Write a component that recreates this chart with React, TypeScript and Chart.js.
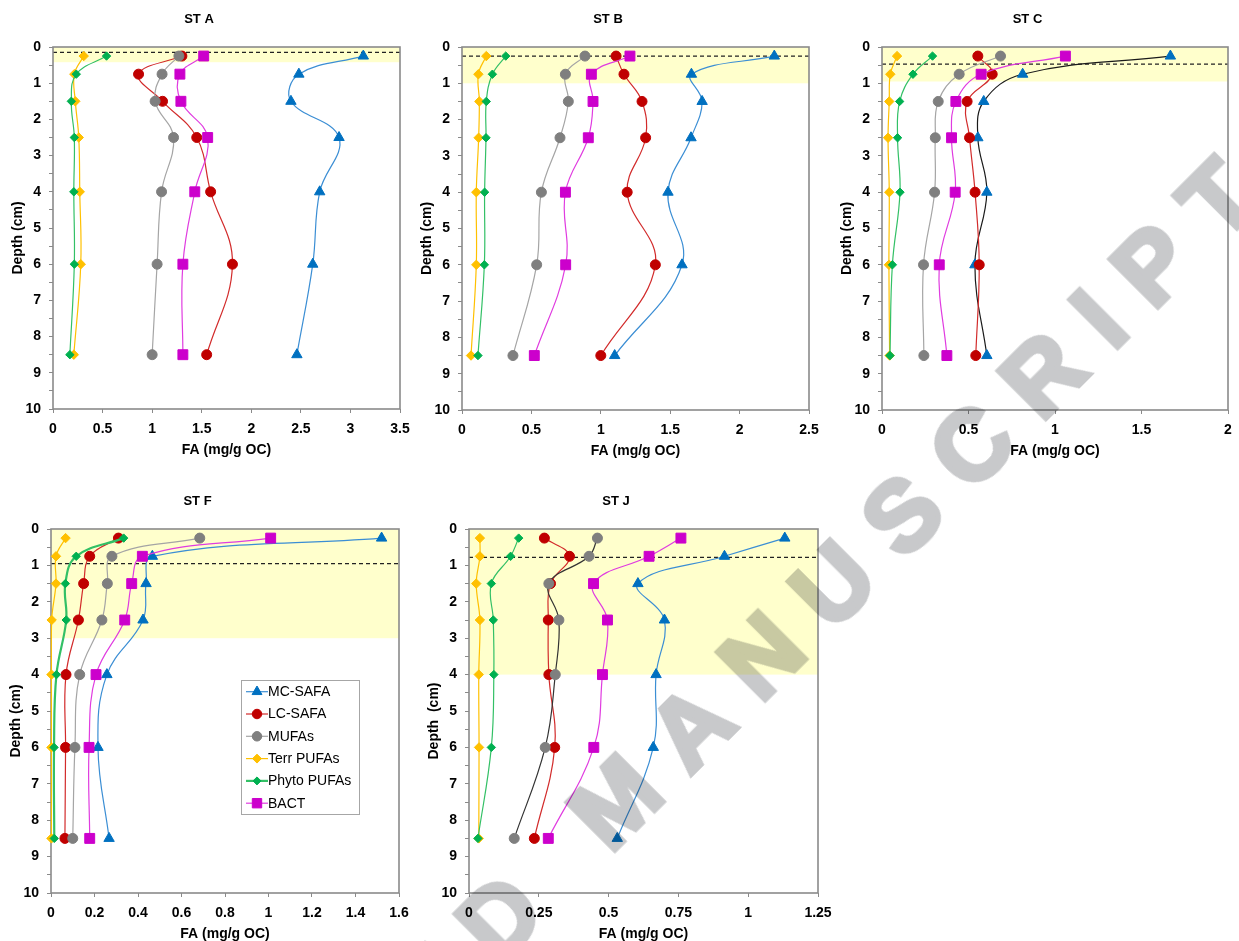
import React, { useEffect, useRef } from "react";
import { Chart, registerables } from "chart.js";

Chart.register(...registerables);

// ---------------- DATA ----------------
const depths = [0.25, 0.75, 1.5, 2.5, 4, 6, 8.5];
const depthTicks = [0, 0.5, 1, 1.5, 2, 2.5, 3, 3.5, 4, 4.5, 5, 5.5, 6, 6.5, 7, 7.5, 8, 8.5, 9, 9.5, 10];
const seriesNames = ["MC-SAFA", "LC-SAFA", "MUFAs", "Terr PUFAs", "Phyto PUFAs", "BACT"];

// ST A
const stA_MCSAFA = [3.13, 2.48, 2.4, 2.885, 2.69, 2.62, 2.46];
const stA_LCSAFA = [1.3, 0.863, 1.105, 1.45, 1.59, 1.81, 1.55];
const stA_MUFAs = [1.27, 1.1, 1.03, 1.216, 1.095, 1.05, 1.0];
const stA_Terr = [0.31, 0.215, 0.225, 0.26, 0.27, 0.28, 0.21];
const stA_Phyto = [0.54, 0.235, 0.185, 0.215, 0.21, 0.215, 0.17];
const stA_BACT = [1.52, 1.28, 1.29, 1.56, 1.43, 1.31, 1.31];

// ST B
const stB_MCSAFA = [2.25, 1.653, 1.73, 1.65, 1.484, 1.585, 1.1];
const stB_LCSAFA = [1.11, 1.167, 1.297, 1.323, 1.19, 1.393, 1.0];
const stB_MUFAs = [0.886, 0.745, 0.766, 0.706, 0.572, 0.538, 0.367];
const stB_Terr = [0.175, 0.118, 0.125, 0.12, 0.103, 0.103, 0.065];
const stB_Phyto = [0.315, 0.219, 0.175, 0.173, 0.163, 0.161, 0.115];
const stB_BACT = [1.21, 0.932, 0.944, 0.91, 0.745, 0.747, 0.521];

// ST C
const stC_MCSAFA = [1.667, 0.813, 0.588, 0.554, 0.606, 0.537, 0.606];
const stC_LCSAFA = [0.554, 0.637, 0.492, 0.506, 0.538, 0.562, 0.542];
const stC_MUFAs = [0.685, 0.446, 0.325, 0.308, 0.304, 0.24, 0.242];
const stC_Terr = [0.087, 0.048, 0.042, 0.035, 0.042, 0.04, 0.044];
const stC_Phyto = [0.292, 0.179, 0.102, 0.09, 0.104, 0.06, 0.046];
const stC_BACT = [1.06, 0.573, 0.427, 0.402, 0.423, 0.331, 0.375];

// ST F
const stF_MCSAFA = [1.52, 0.466, 0.437, 0.423, 0.257, 0.216, 0.267];
const stF_LCSAFA = [0.31, 0.178, 0.15, 0.126, 0.069, 0.067, 0.064];
const stF_MUFAs = [0.684, 0.28, 0.259, 0.234, 0.132, 0.11, 0.1];
const stF_Terr = [0.067, 0.023, 0.023, 0.003, 0.002, 0.002, 0.002];
const stF_Phyto = [0.334, 0.116, 0.066, 0.07, 0.025, 0.014, 0.015];
const stF_BACT = [1.01, 0.42, 0.371, 0.339, 0.207, 0.175, 0.178];

// ST J
const stJ_MCSAFA = [1.131, 0.915, 0.605, 0.7, 0.67, 0.66, 0.531];
const stJ_LCSAFA = [0.27, 0.36, 0.292, 0.284, 0.286, 0.307, 0.234];
const stJ_MUFAs = [0.46, 0.43, 0.286, 0.322, 0.309, 0.273, 0.162];
const stJ_Terr = [0.039, 0.039, 0.026, 0.039, 0.035, 0.036, 0.035];
const stJ_Phyto = [0.178, 0.149, 0.08, 0.087, 0.089, 0.08, 0.032];
const stJ_BACT = [0.759, 0.645, 0.446, 0.496, 0.478, 0.447, 0.284];

// x tick values per panel
const xTicksA = [0, 0.5, 1, 1.5, 2, 2.5, 3, 3.5];
const xTicksB = [0, 0.5, 1, 1.5, 2, 2.5];
const xTicksC = [0, 0.5, 1, 1.5, 2];
const xTicksF = [0, 0.2, 0.4, 0.6, 0.8, 1, 1.2, 1.4, 1.6];
const xTicksJ = [0, 0.25, 0.5, 0.75, 1, 1.25];

// shaded surface layer depth and dashed line depth per panel (A, B, C, F, J)
const bandDepths = [0.42, 1.0, 0.95, 3.0, 4.0];
const dashDepths = [0.15, 0.25, 0.47, 0.95, 0.78];

// ---------------- STYLE ----------------
const FONT = "'Liberation Sans', Arial, Helvetica, sans-serif";
const Y_AXIS_W = 55;
const TITLE_H = 47;
const X_AXIS_H = 50;
const RIGHT_PAD = 15;

type MarkerStyle = { pointStyle: string; radius: number; fill: string; line: string };
const markerStyles: MarkerStyle[] = [
  { pointStyle: "triangle", radius: 6, fill: "#0070C0", line: "#3B8ED4" },
  { pointStyle: "circle", radius: 5, fill: "#C00000", line: "#D22B2B" },
  { pointStyle: "circle", radius: 5, fill: "#7F7F7F", line: "#A5A5A5" },
  { pointStyle: "rectRot", radius: 4.7, fill: "#FFC000", line: "#FFC000" },
  { pointStyle: "rectRot", radius: 4.2, fill: "#00B050", line: "#33C066" },
  { pointStyle: "rect", radius: 7, fill: "#CC00CC", line: "#E03CE0" },
];

type PanelCfg = {
  title: string;
  yTitle: string;
  xMax: number;
  xTicks: number[];
  series: number[][];
  band: number;
  dash: number;
  rect: { left: number; top: number; width: number; height: number };
  lineColorOverride: Record<number, string>;
  lineWidthOverride: Record<number, number>;
  legend: boolean;
};

const panels: PanelCfg[] = [
  {
    title: "ST A", yTitle: "Depth (cm)", xMax: 3.5, xTicks: xTicksA,
    series: [stA_MCSAFA, stA_LCSAFA, stA_MUFAs, stA_Terr, stA_Phyto, stA_BACT],
    band: bandDepths[0], dash: dashDepths[0],
    rect: { left: 53, top: 47, width: 347, height: 362 },
    lineColorOverride: {}, lineWidthOverride: {}, legend: false,
  },
  {
    title: "ST B", yTitle: "Depth (cm)", xMax: 2.5, xTicks: xTicksB,
    series: [stB_MCSAFA, stB_LCSAFA, stB_MUFAs, stB_Terr, stB_Phyto, stB_BACT],
    band: bandDepths[1], dash: dashDepths[1],
    rect: { left: 462, top: 47, width: 347, height: 363 },
    lineColorOverride: {}, lineWidthOverride: {}, legend: false,
  },
  {
    title: "ST C", yTitle: "Depth (cm)", xMax: 2, xTicks: xTicksC,
    series: [stC_MCSAFA, stC_LCSAFA, stC_MUFAs, stC_Terr, stC_Phyto, stC_BACT],
    band: bandDepths[2], dash: dashDepths[2],
    rect: { left: 882, top: 47, width: 346, height: 363 },
    lineColorOverride: { 0: "#1a1a1a" }, lineWidthOverride: {}, legend: false,
  },
  {
    title: "ST F", yTitle: "Depth (cm)", xMax: 1.6, xTicks: xTicksF,
    series: [stF_MCSAFA, stF_LCSAFA, stF_MUFAs, stF_Terr, stF_Phyto, stF_BACT],
    band: bandDepths[3], dash: dashDepths[3],
    rect: { left: 51, top: 529, width: 348, height: 364 },
    lineColorOverride: {}, lineWidthOverride: { 4: 2.2 }, legend: true,
  },
  {
    title: "ST J", yTitle: "Depth  (cm)", xMax: 1.25, xTicks: xTicksJ,
    series: [stJ_MCSAFA, stJ_LCSAFA, stJ_MUFAs, stJ_Terr, stJ_Phyto, stJ_BACT],
    band: bandDepths[4], dash: dashDepths[4],
    rect: { left: 469, top: 529, width: 349, height: 364 },
    lineColorOverride: { 2: "#333333" }, lineWidthOverride: {}, legend: false,
  },
];

function drawMarker(ctx: CanvasRenderingContext2D, style: string, x: number, y: number, r: number, fill: string) {
  ctx.save();
  ctx.fillStyle = fill;
  ctx.strokeStyle = fill;
  ctx.lineWidth = 1;
  ctx.beginPath();
  if (style === "circle") {
    ctx.arc(x, y, r, 0, Math.PI * 2);
  } else if (style === "triangle") {
    ctx.moveTo(x, y - r);
    ctx.lineTo(x + r * Math.sin((2 * Math.PI) / 3), y - r * Math.cos((2 * Math.PI) / 3));
    ctx.lineTo(x + r * Math.sin((4 * Math.PI) / 3), y - r * Math.cos((4 * Math.PI) / 3));
    ctx.closePath();
  } else if (style === "rect") {
    const s = r * Math.SQRT1_2;
    ctx.rect(x - s, y - s, 2 * s, 2 * s);
  } else {
    ctx.moveTo(x - r, y);
    ctx.lineTo(x, y - r);
    ctx.lineTo(x + r, y);
    ctx.lineTo(x, y + r);
    ctx.closePath();
  }
  ctx.fill();
  ctx.stroke();
  ctx.restore();
}

function Panel({ cfg }: { cfg: PanelCfg }) {
  const ref = useRef<HTMLCanvasElement | null>(null);
  const W = Y_AXIS_W + cfg.rect.width + RIGHT_PAD;
  const H = TITLE_H + cfg.rect.height + X_AXIS_H;

  useEffect(() => {
    const canvas = ref.current;
    if (!canvas) return;

    const decorPlugin = {
      id: "decor",
      beforeDatasetsDraw(chart: any) {
        const { ctx, chartArea: a, scales } = chart;
        const y = scales.y;
        ctx.save();
        // surface band
        ctx.fillStyle = "#FFFFCC";
        const yb = y.getPixelForValue(cfg.band);
        ctx.fillRect(a.left, a.top, a.right - a.left, yb - a.top);
        // dashed line
        ctx.setLineDash([4, 3]);
        ctx.strokeStyle = "#222";
        ctx.lineWidth = 1.2;
        const yd = y.getPixelForValue(cfg.dash);
        ctx.beginPath();
        ctx.moveTo(a.left, yd);
        ctx.lineTo(a.right, yd);
        ctx.stroke();
        ctx.setLineDash([]);
        // plot border
        ctx.strokeStyle = "#8a8a8a";
        ctx.lineWidth = 1.6;
        ctx.strokeRect(a.left, a.top, a.right - a.left, a.bottom - a.top);
        // y-axis title
        ctx.translate(a.left - 34.5, (a.top + a.bottom) / 2 + 10);
        ctx.rotate(-Math.PI / 2);
        ctx.font = `bold 14px ${FONT}`;
        ctx.fillStyle = "#000";
        ctx.textAlign = "center";
        ctx.textBaseline = "middle";
        ctx.fillText(cfg.yTitle, 0, 0);
        ctx.restore();
      },
    };

    const legendPlugin = {
      id: "insetLegend",
      afterDatasetsDraw(chart: any) {
        if (!cfg.legend) return;
        const { ctx, chartArea: a } = chart;
        const bx = a.left + 190;
        const by = a.top + 151;
        const bw = 118;
        const bh = 134;
        ctx.save();
        ctx.fillStyle = "#fff";
        ctx.fillRect(bx, by, bw, bh);
        ctx.strokeStyle = "#a6a6a6";
        ctx.lineWidth = 1;
        ctx.strokeRect(bx + 0.5, by + 0.5, bw, bh);
        ctx.font = `14px ${FONT}`;
        ctx.textBaseline = "middle";
        ctx.textAlign = "left";
        seriesNames.forEach((name, i) => {
          const yy = by + 11.7 + i * 22.3;
          const st = markerStyles[i];
          ctx.strokeStyle = st.line;
          ctx.lineWidth = cfg.lineWidthOverride[i] ?? 1.2;
          ctx.beginPath();
          ctx.moveTo(bx + 5, yy);
          ctx.lineTo(bx + 27, yy);
          ctx.stroke();
          drawMarker(ctx, st.pointStyle, bx + 16, yy, st.radius * 0.95, st.fill);
          ctx.fillStyle = "#000";
          ctx.fillText(name, bx + 27, yy + 0.5);
        });
        ctx.restore();
      },
    };

    const tickFont = { family: FONT, size: 14, weight: "bold" as const };

    const chart = new Chart(canvas, {
      type: "scatter",
      data: {
        datasets: seriesNames.map((name, i) => {
          const st = markerStyles[i];
          return {
            label: name,
            data: depths.map((d, k) => ({ x: cfg.series[i][k], y: d })),
            showLine: true,
            borderColor: cfg.lineColorOverride[i] ?? st.line,
            borderWidth: cfg.lineWidthOverride[i] ?? 1.2,
            backgroundColor: st.fill,
            pointBackgroundColor: st.fill,
            pointBorderColor: st.fill,
            pointBorderWidth: 1,
            pointStyle: st.pointStyle as any,
            pointRadius: st.radius,
            pointHoverRadius: st.radius,
            tension: 0.4,
            clip: false as any,
            order: 10 - i,
          };
        }),
      },
      options: {
        responsive: false,
        animation: false,
        devicePixelRatio: 1,
        layout: { padding: { left: 0, right: RIGHT_PAD, top: 0, bottom: 0 } },
        plugins: {
          legend: { display: false },
          tooltip: { enabled: false },
          title: {
            display: true,
            text: cfg.title,
            color: "#000",
            font: { family: FONT, size: 13, weight: "bold" },
            padding: { top: 11.4, bottom: 20 },
          },
        },
        scales: {
          x: {
            type: "linear",
            position: "bottom",
            min: 0,
            max: cfg.xMax,
            afterBuildTicks: (s: any) => {
              s.ticks = cfg.xTicks.map((v) => ({ value: v }));
            },
            afterFit: (s: any) => {
              s.height = X_AXIS_H;
              s.paddingLeft = 0;
              s.paddingRight = 0;
            },
            ticks: {
              autoSkip: false,
              maxRotation: 0,
              minRotation: 0,
              padding: 8,
              color: "#000",
              font: tickFont,
              callback: (v: any) => String(v),
            },
            grid: { drawOnChartArea: false, drawTicks: true, tickLength: 4, color: "#8a8a8a" },
            border: { display: false },
            title: {
              display: true,
              text: "FA (mg/g OC)",
              color: "#000",
              font: tickFont,
              padding: { top: 0, bottom: 0 },
            },
          },
          y: {
            type: "linear",
            reverse: true,
            min: 0,
            max: 10,
            afterBuildTicks: (s: any) => {
              s.ticks = depthTicks.map((v) => ({ value: v }));
            },
            afterFit: (s: any) => {
              s.width = Y_AXIS_W;
              s.paddingTop = 0;
              s.paddingBottom = 0;
            },
            ticks: {
              autoSkip: false,
              padding: 8,
              color: "#000",
              font: tickFont,
              callback: (v: any) => (Number.isInteger(v) ? String(v) : ""),
            },
            grid: { drawOnChartArea: false, drawTicks: true, tickLength: 4, color: "#8a8a8a" },
            border: { display: false },
          },
        },
      } as any,
      plugins: [decorPlugin, legendPlugin],
    });

    return () => chart.destroy();
  }, []);

  return (
    <canvas
      ref={ref}
      width={W}
      height={H}
      style={{
        position: "absolute",
        left: cfg.rect.left - Y_AXIS_W,
        top: cfg.rect.top - TITLE_H,
        width: W,
        height: H,
      }}
    />
  );
}

export default function App() {
  return (
    <div
      style={{
        position: "fixed",
        left: 0,
        top: 0,
        width: 1239,
        height: 941,
        background: "#fff",
        overflow: "hidden",
      }}
    >
      {panels.map((p) => (
        <Panel key={p.title} cfg={p} />
      ))}
      <div
        style={{
          position: "absolute",
          left: 617,
          top: 800,
          transform: "translate(-50%, -50%) rotate(-45deg)",
          fontFamily: FONT,
          fontWeight: "bold",
          fontSize: 98,
          lineHeight: 1,
          letterSpacing: 30,
          paddingLeft: 30,
          whiteSpace: "nowrap",
          color: "rgb(200,201,203)",
          WebkitTextStroke: "5px rgb(200,201,203)",
          mixBlendMode: "multiply",
          pointerEvents: "none",
        }}
      >
        ACCEPTED MANUSCRIPT
      </div>
    </div>
  );
}
